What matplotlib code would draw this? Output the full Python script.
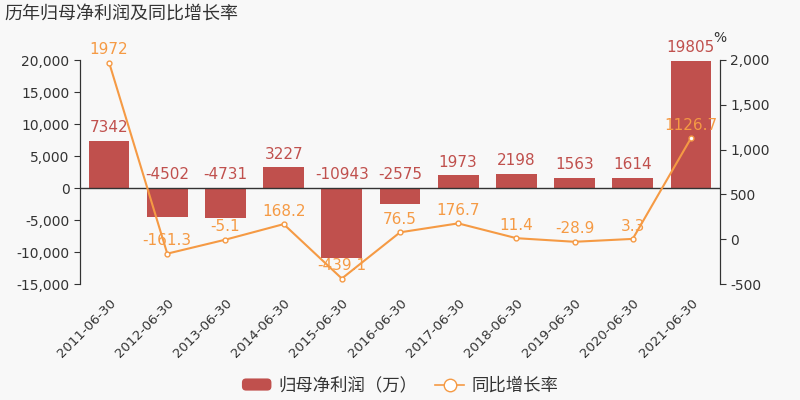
import numpy as np
import matplotlib.pyplot as plt
from matplotlib.ticker import FuncFormatter
from matplotlib.patches import FancyBboxPatch
from matplotlib.legend_handler import HandlerPatch

plt.rcParams['font.family'] = ['DejaVu Sans', 'Noto Sans CJK SC']

dates = ['2011-06-30', '2012-06-30', '2013-06-30', '2014-06-30', '2015-06-30',
         '2016-06-30', '2017-06-30', '2018-06-30', '2019-06-30', '2020-06-30',
         '2021-06-30']
profit = [7342, -4502, -4731, 3227, -10943, -2575, 1973, 2198, 1563, 1614, 19805]
growth = [1972, -161.3, -5.1, 168.2, -439.1, 76.5, 176.7, 11.4, -28.9, 3.3, 1126.7]
growth_labels = ['1972', '-161.3', '-5.1', '168.2', '-439.1', '76.5', '176.7',
                 '11.4', '-28.9', '3.3', '1126.7']

bar_color = '#c0504d'
line_color = '#f59a44'
bg = '#f8f8f8'
txt = '#333333'

fig = plt.figure(figsize=(8, 4), dpi=100, facecolor=bg)
ax = fig.add_axes([0.1, 0.29, 0.8, 0.56], facecolor=bg)
ax2 = ax.twinx()

x = np.arange(len(dates))
ax.bar(x, profit, width=0.7, color=bar_color, zorder=2)
ax.set_xlim(-0.5, len(dates) - 0.5)
ax.set_ylim(-15000, 20000)
ax.set_yticks(np.arange(-15000, 20001, 5000))
ax.yaxis.set_major_formatter(FuncFormatter(lambda v, p: f'{int(v):,}'))
for xi, v in zip(x, profit):
    ax.text(xi, max(v, 0) + 900, str(v), ha='center', va='bottom',
            color=bar_color, fontsize=11, zorder=4)

ax2.plot(x, growth, color=line_color, lw=1.5, marker='o', ms=3.5,
         mfc='white', mec=line_color, zorder=3)
ax2.set_ylim(-500, 2000)
ax2.set_yticks(np.arange(-500, 2001, 500))
ax2.yaxis.set_major_formatter(FuncFormatter(lambda v, p: f'{int(v):,}'))
for xi, v, lab in zip(x, growth, growth_labels):
    ax2.text(xi, v + 60, lab, ha='center', va='bottom', color=line_color,
             fontsize=11, zorder=4)

for a in (ax, ax2):
    a.spines['top'].set_visible(False)
    a.spines['bottom'].set_visible(False)
    a.spines['left'].set_color(txt)
    a.spines['right'].set_color(txt)
    a.tick_params(axis='y', colors=txt, labelsize=10, length=4)
ax.axhline(0, color=txt, lw=1, zorder=3)
ax.set_xticks(x)
ax.set_xticklabels(dates, rotation=45, ha='right', rotation_mode='anchor',
                   fontsize=9.5, color=txt)
ax.tick_params(axis='x', length=0, pad=9)

fig.text(0.892, 0.895, '%', fontsize=10, color=txt)
fig.text(0.006, 0.965, '历年归母净利润及同比增长率', fontsize=13, color=txt,
         va='center', ha='left')


class RoundHandler(HandlerPatch):
    def create_artists(self, legend, orig, xd, yd, w, h, fs, trans):
        p = FancyBboxPatch((-xd, -yd), w, h, boxstyle='round,pad=0,rounding_size=3',
                           fc=bar_color, ec='none', transform=trans)
        return [p]


h1 = plt.Rectangle((0, 0), 1, 1, color=bar_color)
h2 = plt.Line2D([], [], color=line_color, marker='o', ms=9, mfc='white',
                mec=line_color, lw=1.2)
fig.legend([h1, h2], ['归母净利润（万）', '同比增长率'], loc='center',
           bbox_to_anchor=(0.5, 0.036), ncol=2, frameon=False, fontsize=12.5,
           handlelength=1.7, handletextpad=0.4, columnspacing=1.0,
           labelcolor=txt, handler_map={h1: RoundHandler()})

fig.savefig('out.png', dpi=100, facecolor=bg)
